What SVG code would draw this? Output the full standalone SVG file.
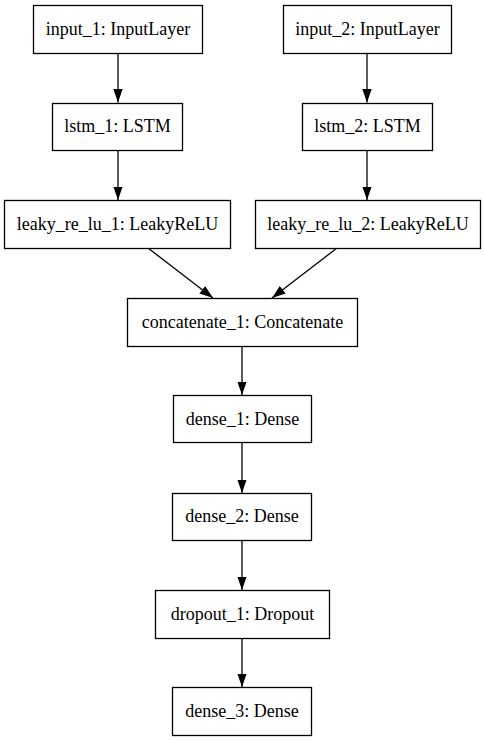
<svg xmlns="http://www.w3.org/2000/svg" width="485" height="741" viewBox="0 0 485 741">
<style>
.box{fill:#fff;stroke:#000;stroke-width:1.3}
.lbl{font-family:"Liberation Serif","Times New Roman",serif;font-size:18px;fill:#000;text-anchor:middle}
.edge{stroke:#000;stroke-width:1.3;fill:none}
</style>
<defs>
<marker id="ah" markerUnits="userSpaceOnUse" markerWidth="14" markerHeight="10" refX="13.5" refY="5" orient="auto">
<path d="M0,0.3 L13.5,5 L0,9.7 z" fill="#000"/>
</marker>
</defs>
<rect width="485" height="741" fill="#fff"/>
<g id="connectors">
<line class="edge" x1="118" y1="53" x2="118" y2="102.5" marker-end="url(#ah)"/>
<line class="edge" x1="118" y1="150" x2="118" y2="200" marker-end="url(#ah)"/>
<line class="edge" x1="367" y1="53" x2="367" y2="102.5" marker-end="url(#ah)"/>
<line class="edge" x1="367" y1="150" x2="367" y2="200" marker-end="url(#ah)"/>
<line class="edge" x1="148" y1="248" x2="213" y2="298" marker-end="url(#ah)"/>
<line class="edge" x1="337" y1="248" x2="272" y2="298" marker-end="url(#ah)"/>
<line class="edge" x1="242" y1="346" x2="242" y2="395" marker-end="url(#ah)"/>
<line class="edge" x1="242" y1="443" x2="242" y2="493" marker-end="url(#ah)"/>
<line class="edge" x1="242" y1="540" x2="242" y2="590" marker-end="url(#ah)"/>
<line class="edge" x1="242" y1="638" x2="242" y2="687" marker-end="url(#ah)"/>
</g>
<g id="input_1"><rect class="box" x="33.5" y="5.5" width="169" height="48"/><text class="lbl" x="118" y="35">input_1: InputLayer</text></g>
<g id="input_2"><rect class="box" x="283.5" y="5.5" width="168" height="48"/><text class="lbl" x="367.5" y="35">input_2: InputLayer</text></g>
<g id="lstm_1"><rect class="box" x="52.5" y="103.5" width="130" height="47"/><text class="lbl" x="117.5" y="132">lstm_1: LSTM</text></g>
<g id="lstm_2"><rect class="box" x="302.5" y="103.5" width="130" height="47"/><text class="lbl" x="367.5" y="132">lstm_2: LSTM</text></g>
<g id="leaky_re_lu_1"><rect class="box" x="4.5" y="200.5" width="226" height="48"/><text class="lbl" x="117.5" y="230">leaky_re_lu_1: LeakyReLU</text></g>
<g id="leaky_re_lu_2"><rect class="box" x="255.5" y="200.5" width="225" height="48"/><text class="lbl" x="368" y="230">leaky_re_lu_2: LeakyReLU</text></g>
<g id="concatenate_1"><rect class="box" x="127.5" y="298.5" width="230" height="48"/><text class="lbl" x="242.5" y="328">concatenate_1: Concatenate</text></g>
<g id="dense_1"><rect class="box" x="173.5" y="395.5" width="138" height="47"/><text class="lbl" x="242.5" y="425">dense_1: Dense</text></g>
<g id="dense_2"><rect class="box" x="172.5" y="493.5" width="139" height="47"/><text class="lbl" x="242" y="522">dense_2: Dense</text></g>
<g id="dropout_1"><rect class="box" x="155.5" y="590.5" width="174" height="48"/><text class="lbl" x="242.5" y="620">dropout_1: Dropout</text></g>
<g id="dense_3"><rect class="box" x="172.5" y="687.5" width="139" height="48"/><text class="lbl" x="242" y="717">dense_3: Dense</text></g>
</svg>
